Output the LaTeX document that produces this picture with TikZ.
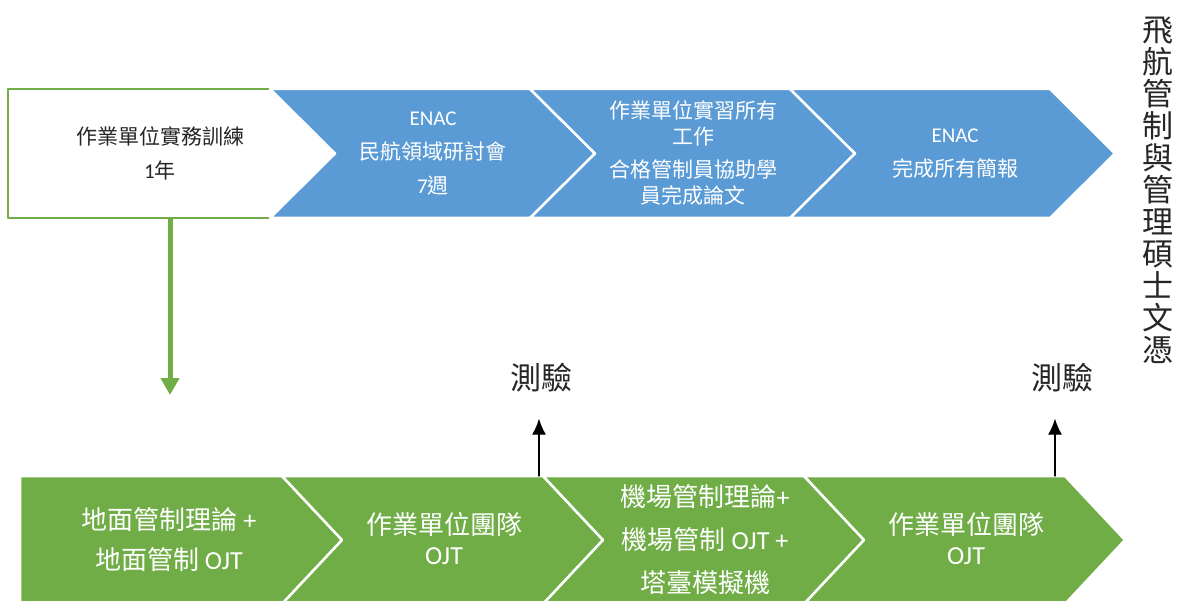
\documentclass[tikz,border=0pt]{standalone}
\usepackage{fontspec}
\setmainfont{Noto Sans CJK TC}
\newfontfamily\lat{Carlito}
\usetikzlibrary{arrows.meta}
\definecolor{chevblue}{HTML}{5B9BD5}
\definecolor{chevgreen}{HTML}{70AD47}
\definecolor{txtdark}{HTML}{262626}
\begin{document}
\begin{tikzpicture}[x=1pt, y=-1pt, line join=round, line cap=round,
  txt/.style={align=center, inner sep=0pt},
  toptxt/.style={txt, white, font=\fontsize{21}{34}\selectfont},
  bottxt/.style={txt, white, font=\fontsize{26}{40}\selectfont},
  examtxt/.style={txt, txtdark, font=\fontsize{31}{32}\selectfont},
  examarrow/.style={-{Latex[length=16pt,width=14pt]}, line width=1.3pt, shorten >=26pt},
  greenarrow/.style={-{Triangle[length=17pt,width=18pt]}, line width=5pt, chevgreen, line cap=butt}]
\useasboundingbox (0,0) rectangle (1182,601);
\def\ta{89}\def\tb{218}\def\tm{153.5}
\def\ba{476}\def\bb{604}\def\bm{540}
% top row
\fill[white] (8,\ta) -- (270,\ta) -- (335,\tm) -- (270,\tb) -- (8,\tb) -- cycle;
\draw[chevgreen, line width=2.5pt] (270,\ta) -- (8,\ta) -- (8,\tb) -- (270,\tb);
\foreach \x in {270,530,790}
  \filldraw[fill=chevblue, draw=white, line width=2.5pt] (\x,\ta) -- (\x+260,\ta) -- (\x+325,\tm) -- (\x+260,\tb) -- (\x,\tb) -- (\x+65,\tm) -- cycle;
% bottom row
\filldraw[fill=chevgreen, draw=white, line width=2.5pt] (20,\ba) -- (282,\ba) -- (342,\bm) -- (282,\bb) -- (20,\bb) -- cycle;
\foreach \x in {282,543,804}
  \filldraw[fill=chevgreen, draw=white, line width=2.5pt] (\x,\ba) -- (\x+261,\ba) -- (\x+321,\bm) -- (\x+261,\bb) -- (\x,\bb) -- (\x+60,\bm) -- cycle;
% texts
\node[toptxt, txtdark] (unit) at (160,153) {作業單位實務訓練\\{\lat 1}年};
\node[toptxt] (enac1) at (433,154) {{\lat ENAC}\\民航領域研討會\\{\lat 7}週};
\node[toptxt, font=\fontsize{21}{26}\selectfont] (intern) at (693,153) {作業單位實習所有\\工作\\[7pt]合格管制員協助學\\員完成論文};
\node[toptxt] (enac2) at (955,154) {{\lat ENAC}\\完成所有簡報};
\node[bottxt] (ground) at (169,540) {地面管制理論 {\lat +}\\地面管制 {\lat OJT}};
\node[bottxt, font=\fontsize{26}{30}\selectfont] (team1) at (444,539) {作業單位團隊\\{\lat OJT}};
\node[bottxt, font=\fontsize{26}{43}\selectfont] (tower) at (705,540) {機場管制理論{\lat +}\\機場管制 {\lat OJT +}\\塔臺模擬機};
\node[bottxt, font=\fontsize{26}{30}\selectfont] (team2) at (966,539) {作業單位團隊\\{\lat OJT}};
\node[examtxt] (exam1) at (541,378) {測驗};
\node[examtxt] (exam2) at (1062,378) {測驗};
\node[examtxt] (degree) at (1158,190) {飛\\航\\管\\制\\與\\管\\理\\碩\\士\\文\\憑};
% arrows
\coordinate (j1) at (539,476);
\coordinate (j2) at (1055,476);
\draw[examarrow] (j1) -- (j1 |- exam1.south);
\draw[examarrow] (j2) -- (j2 |- exam2.south);
\coordinate (ubot) at (170,218);
\coordinate (uend) at (170,395);
\draw[greenarrow] (ubot) -- (uend);
\end{tikzpicture}
\end{document}
